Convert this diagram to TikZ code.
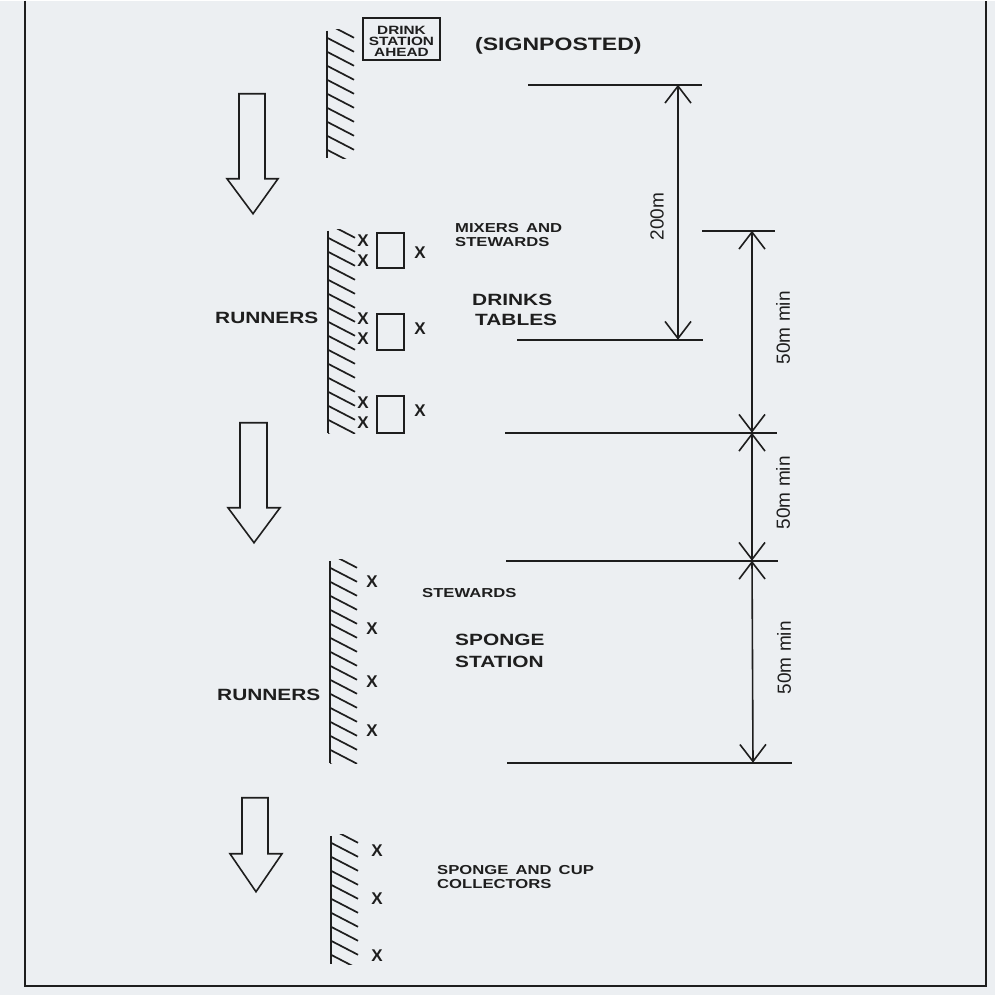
\documentclass[tikz,border=0pt]{standalone}
\usepackage{fontspec}
\setmainfont{Liberation Sans}
\newfontfamily\widefont[FakeStretch=1.28]{Liberation Sans}
\usetikzlibrary{arrows.meta}
\definecolor{paper}{RGB}{236,239,242}
\definecolor{ink}{RGB}{30,30,30}
\tikzset{
  ink line/.style={draw=ink, line width=1.8pt},
  lbl/.style={inner sep=0pt, text=ink, anchor=base west},
  lblbig/.style={lbl, font=\fontsize{16.3}{16.3}\selectfont\widefont\bfseries},
  lblsmall/.style={lbl, font=\fontsize{13}{13}\selectfont\widefont\bfseries},
  signtxt/.style={inner sep=0pt, text=ink, anchor=base, font=\fontsize{12}{12}\selectfont\widefont\bfseries},
  xmark/.style={inner sep=0pt, text=ink, font=\fontsize{17}{17}\selectfont\bfseries},
  dimlbl/.style={inner sep=0pt, text=ink, rotate=90, font=\fontsize{19}{19}\selectfont},
  dimarrow/.style={ink line, line width=1.6pt, {Straight Barb[length=17pt,width=26pt]}-{Straight Barb[length=17pt,width=26pt]}},
  extline/.style={ink line, line width=1.6pt},
  blockarrow/.style={ink line, line width=1.6pt, line join=miter},
}
\newcommand\hatchwall[3]{%
  \draw[ink line] (#1,#2) -- (#1,#3);
  \begin{scope}
    \clip (#1-1,#2-1) rectangle (#1+30,#3+1);
    \foreach \k in {0,...,15} {
      \draw[ink line, line width=1.7pt] (#1,#2+\k*14-7) -- (#1+27,#2+\k*14+7);
    }
  \end{scope}}
\newcommand\gap{\hspace{0.55em}}
\begin{document}
\begin{tikzpicture}[x=1pt,y=-1pt]
% paper and frame
\fill[paper] (0,0) rectangle (995,994);
\draw[ink line, line width=1.5pt] (25,0) -- (25,985) -- (986,985) -- (986,0);

% ---- sign ----
\draw[ink line, line width=1.6pt] (363,17) rectangle (440,59);
\node[signtxt] (s1) at (401.5,33.5) {DRINK};
\node[signtxt] (s2) at (401.5,44.5) {STATION};
\node[signtxt] (s3) at (401.5,55.5) {AHEAD};
\node[lbl, font=\fontsize{18}{18}\selectfont\widefont\bfseries] (sp) at (475,50) {(SIGNPOSTED)};

% ---- walls ----
\hatchwall{327}{30}{157}
\hatchwall{328}{230}{432}
\hatchwall{330}{560}{762}
\hatchwall{331}{835}{963}

% ---- block arrows ----
\draw[blockarrow] (239,93) -- (265,93) -- (265,178) -- (278,178) -- (253,213) -- (227,178) -- (239,178) -- cycle;
\draw[blockarrow] (240,422) -- (267,422) -- (267,507) -- (280,507) -- (254,542) -- (228,507) -- (240,507) -- cycle;
\draw[blockarrow] (242,797) -- (268,797) -- (268,853) -- (282,853) -- (256,891) -- (230,853) -- (242,853) -- cycle;

% ---- drinks tables ----
\draw[ink line, line width=1.6pt] (377,232) rectangle (404,267);
\draw[ink line, line width=1.6pt] (377,313) rectangle (404,349);
\draw[ink line, line width=1.6pt] (377,395) rectangle (404,432);
\foreach \yy in {240,260,318,338,402,422} { \node[xmark] at (363,\yy) {X}; }
\foreach \yy in {252,328,410} { \node[xmark] at (420,\yy) {X}; }

\node[lblsmall] (mix1) at (455,232) {MIXERS\gap AND};
\node[lblsmall] (mix2) at (455,246) {STEWARDS};
\node[lblbig] (dt1) at (472,305) {DRINKS};
\node[lblbig] (dt2) at (475,325) {TABLES};
\node[lblbig] (run1) at (215,323) {RUNNERS};

% ---- sponge station ----
\foreach \yy in {581,628,681,730} { \node[xmark] at (372,\yy) {X}; }
\node[lblsmall] (stw) at (422,597) {STEWARDS};
\node[lblbig] (sp1) at (455,645) {SPONGE};
\node[lblbig] (sp2) at (455,667) {STATION};
\node[lblbig] (run2) at (217,700) {RUNNERS};

% ---- collectors ----
\foreach \yy in {850,898,955} { \node[xmark] at (377,\yy) {X}; }
\node[lblsmall] (col1) at (437,874) {SPONGE\gap AND\gap CUP};
\node[lblsmall] (col2) at (437,888) {COLLECTORS};

% ---- dimensions ----
\coordinate (e0a) at (528,84);  \coordinate (e0b) at (702,84);
\coordinate (e1a) at (517,339); \coordinate (e1b) at (703,339);
\coordinate (e2a) at (702,230); \coordinate (e2b) at (775,230);
\coordinate (e3a) at (505,432); \coordinate (e3b) at (777,432);
\coordinate (e4a) at (506,560); \coordinate (e4b) at (778,560);
\coordinate (e5a) at (507,762); \coordinate (e5b) at (792,762);
\foreach \e in {0,...,5} { \draw[extline] (e\e a) -- (e\e b); }

\coordinate (t200) at (678,84);
\coordinate (b200) at (678,339);
\draw[dimarrow] (t200) -- (b200);
\node[dimlbl] (l200) at (657,216) {200m};

\coordinate (c0) at (752,230);
\coordinate (c1) at (752,432);
\coordinate (c2) at (752,560);
\coordinate (c3) at (753,762);
\draw[dimarrow] (c0) -- (c1);
\draw[dimarrow] (c1) -- (c2);
\draw[dimarrow] (c2) -- (c3);
\node[dimlbl] (l50a) at (783,327) {50m min};
\node[dimlbl] (l50b) at (783,492) {50m min};
\node[dimlbl] (l50c) at (784,657) {50m min};
\end{tikzpicture}
\end{document}
